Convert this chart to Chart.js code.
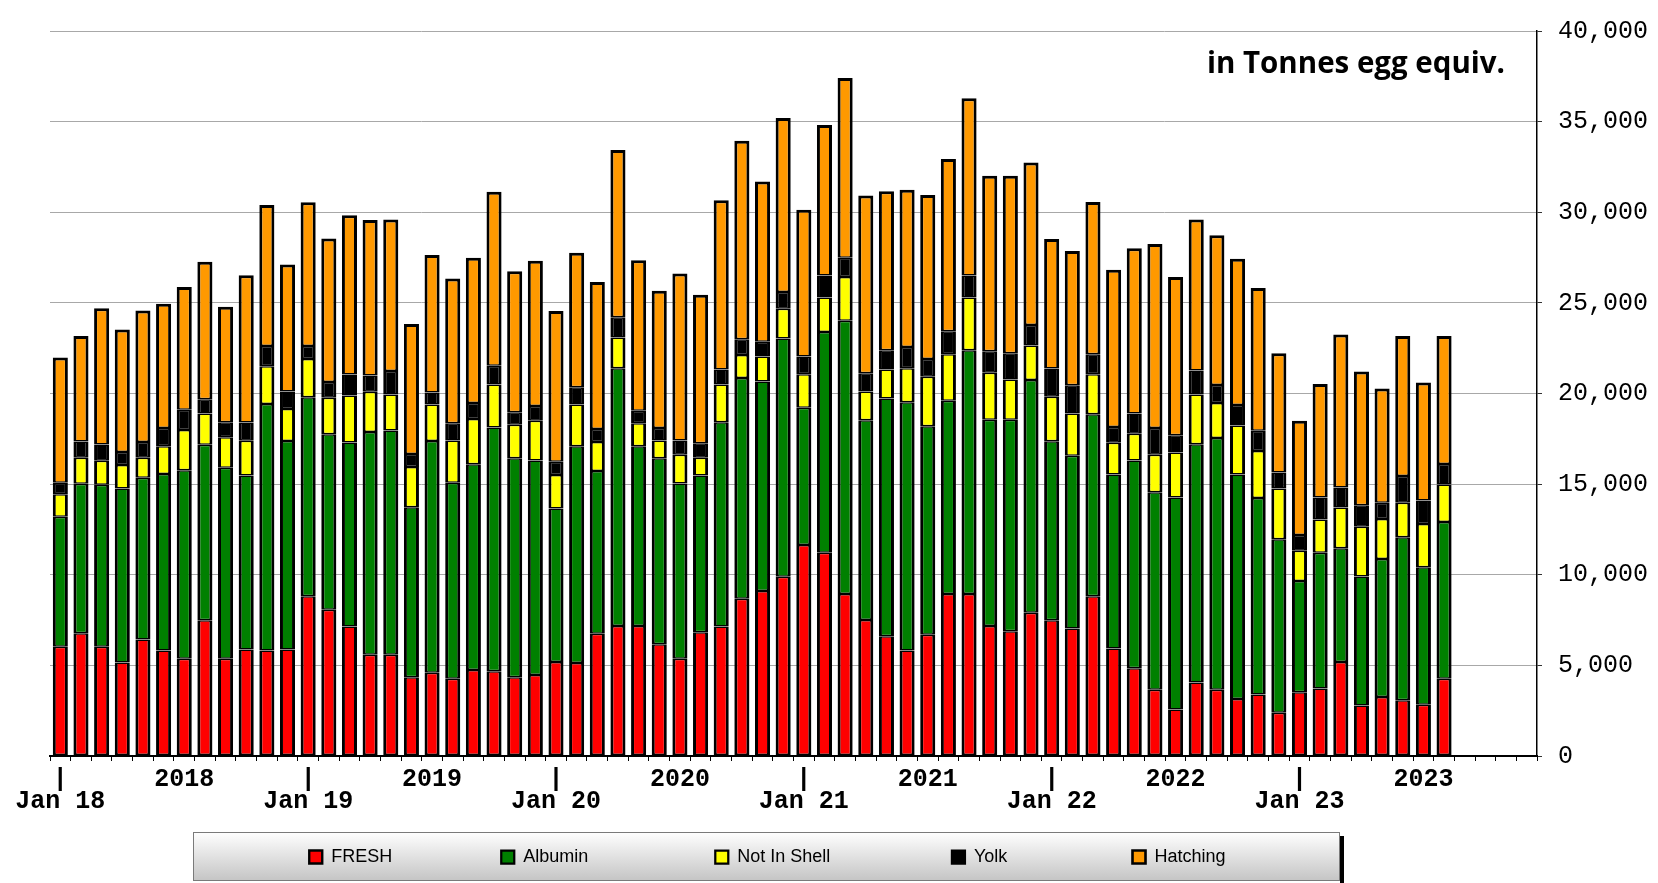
<!DOCTYPE html>
<html>
<head>
<meta charset="utf-8">
<title>Egg product imports</title>
<script src="https://cdn.jsdelivr.net/npm/chart.js@4.4.1/dist/chart.umd.min.js"></script>
<style>
    html, body { margin: 0; padding: 0; background: #ffffff; }
    .chart-wrap { position: relative; width: 1658px; height: 883px; }
</style>
</head>
<body>
<div class="chart-wrap">
    <canvas id="eggChart"></canvas>
</div>
<script>
// Monthly categories Jan 18 .. Dec 23 (axis runs to end of 2023)
const monthNames = ['Jan', 'Feb', 'Mar', 'Apr', 'May', 'Jun', 'Jul', 'Aug', 'Sep', 'Oct', 'Nov', 'Dec'];
const years = ['18', '19', '20', '21', '22', '23'];
const categories = [];
years.forEach(y => monthNames.forEach(m => categories.push(m + ' ' + y)));

// Tick labels
const janLabels = ['Jan 18', 'Jan 19', 'Jan 20', 'Jan 21', 'Jan 22', 'Jan 23'];
const yearLabels = ['2018', '2019', '2020', '2021', '2022', '2023'];

// Series values (tonnes egg equiv.), Jan 2018 - Aug 2023
const fresh = [6030, 6770, 6030, 5160, 6430, 5820, 5370, 7490, 5370, 5870, 5820, 5870,
    8810, 8070, 7140, 5580, 5580, 4340, 4600, 4260, 4740, 4680, 4340, 4470,
    5190, 5130, 6750, 7170, 7170, 6160, 5370, 6830, 7140, 8680, 9100, 9890,
    11640, 11220, 8940, 7510, 6610, 5820, 6690, 8940, 8940, 7170, 6880, 7910,
    7490, 7040, 8810, 5930, 4840, 3650, 2570, 4050, 3650, 3150, 3390, 2380,
    3520, 3730, 5190, 2780, 3250, 3070, 2830, 4260];

const albumin = [7170, 8255, 8940, 9600, 8915, 9735, 10400, 9680, 10530, 9600, 13600, 11510,
    10980, 9680, 10160, 12300, 12380, 9390, 12780, 10820, 11350, 13440, 12090, 11830,
    8460, 11960, 8970, 14230, 9920, 10270, 9660, 8650, 11270, 12170, 11560, 13150,
    7570, 12170, 15080, 11010, 13120, 13700, 11510, 10660, 13440, 11380, 11670, 12830,
    9870, 9520, 10050, 9600, 11460, 10900, 11690, 13150, 13890, 12380, 10850, 9580,
    6140, 7490, 6270, 7120, 7620, 9000, 7590, 8650];

const notInShell = [1240, 1430, 1320, 1300, 1110, 1535, 2220, 1720, 1690, 1930, 2090, 1770,
    2115, 2010, 2590, 2220, 1985, 2220, 2010, 2330, 2510, 2380, 1850, 2195,
    1850, 2300, 1610, 1695, 1270, 980, 1585, 980, 2090, 1270, 1380, 1640,
    1850, 1905, 2410, 1590, 1590, 1880, 2725, 2565, 2910, 2590, 2220, 1905,
    2460, 2330, 2200, 1750, 1480, 2065, 2490, 2750, 1930, 2700, 2590, 2800,
    1665, 1825, 2250, 2750, 2200, 1905, 2380, 2065];

const yolk = [635, 900, 900, 715, 870, 1005, 1110, 795, 820, 1005, 1110, 955,
    715, 875, 1165, 900, 1295, 715, 660, 950, 875, 1030, 690, 820,
    740, 950, 715, 1110, 690, 690, 795, 795, 820, 875, 820, 925,
    980, 1215, 1060, 1005, 1060, 1165, 980, 1270, 1215, 1190, 1455, 1135,
    1560, 1560, 1110, 870, 1110, 1480, 950, 1320, 1005, 1140, 1110, 875,
    875, 1215, 1110, 1190, 900, 1480, 1300, 1140];

const hatching = [6905, 5820, 7510, 6750, 7250, 6850, 6775, 7590, 6375, 8120, 7780, 7010,
    7935, 7910, 8780, 8570, 8360, 7170, 7590, 7990, 8015, 9600, 7780, 8015,
    8310, 7430, 8100, 9230, 8305, 7565, 9205, 8200, 9340, 10950, 8835, 9600,
    8095, 8310, 9920, 9815, 8780, 8680, 9045, 9500, 9790, 9680, 9790, 8970,
    7140, 7410, 8390, 8680, 9130, 10160, 8730, 8330, 8250, 8070, 7880, 6590,
    6300, 6270, 8440, 7380, 6300, 7720, 6510, 7060];

const seriesNames = ['FRESH', 'Albumin', 'Not In Shell', 'Yolk', 'Hatching'];
const titleText = 'in Tonnes egg equiv.';

// Spacing appended after each legend entry (em / en / thin spaces)
const EM = '\u2003', EN = '\u2002', THIN = '\u2009';
const legendGaps = [
    EM.repeat(5) + EN,
    EM.repeat(6) + EN,
    EM.repeat(6) + THIN,
    EM.repeat(6) + THIN + THIN,
    EM + EM + EN + THIN + THIN
];

class EggChart {
    constructor(canvasId) {
        this.canvas = document.getElementById(canvasId);
        this.chart = null;
        this.init();
    }

    init() {
        const ctx = this.canvas.getContext('2d');
        const side = { left: 3, right: 3, top: 1.5, bottom: 1.5 };

        this.chart = new Chart(ctx, {
            type: 'bar',
            data: {
                labels: categories,
                datasets: [
                    this.makeSet(seriesNames[0], fresh, '#ff0000', { left: 3, right: 3, top: 1.5, bottom: 2 }),
                    this.makeSet(seriesNames[1], albumin, '#008000', side),
                    this.makeSet(seriesNames[2], notInShell, '#ffff00', side),
                    this.makeSet(seriesNames[3], yolk, '#000000', side),
                    this.makeSet(seriesNames[4], hatching, '#ff9900', { left: 3, right: 3, top: 3, bottom: 1.5 })
                ]
            },
            options: {
                responsive: true,
                maintainAspectRatio: false,
                animation: false,
                layout: {
                    padding: { left: 50, right: 0, top: 21, bottom: 7 }
                },
                datasets: {
                    bar: {
                        barPercentage: 0.73,
                        categoryPercentage: 1.0
                    }
                },
                plugins: {
                    legend: {
                        position: 'bottom',
                        fullSize: false,
                        labels: {
                            color: '#000000',
                            font: { family: "'Liberation Sans', Arial, sans-serif", size: 18 },
                            boxWidth: 13,
                            boxHeight: 13,
                            padding: 10,
                            generateLabels: (chart) => {
                                const items = Chart.defaults.plugins.legend.labels.generateLabels(chart);
                                // widen the gap between entries like the original legend panel
                                items.forEach((item, i) => { item.text += legendGaps[i]; });
                                return items;
                            }
                        }
                    },
                    tooltip: { enabled: false }
                },
                scales: {
                    x: {
                        stacked: true,
                        grid: {
                            offset: true,
                            drawOnChartArea: false,
                            drawTicks: true,
                            tickLength: 5,
                            tickColor: '#000000',
                            tickWidth: 1
                        },
                        border: { color: '#000000', width: 2 },
                        ticks: {
                            autoSkip: false,
                            maxRotation: 0,
                            minRotation: 0,
                            padding: 8,
                            color: '#000000',
                            font: { family: "'Liberation Mono', monospace", size: 25, weight: 'bold', lineHeight: '22px' },
                            callback: (value, index) => {
                                if (index % 12 === 0) return ['|', janLabels[index / 12]];
                                if (index % 12 === 6) return yearLabels[(index - 6) / 12];
                                return '';
                            }
                        },
                        afterFit: (scale) => { scale.height = 82; }
                    },
                    y: {
                        stacked: true,
                        position: 'right',
                        min: 0,
                        max: 40000,
                        grid: {
                            color: '#a8a8a8',
                            lineWidth: 1,
                            tickLength: 5,
                            tickColor: '#333333'
                        },
                        border: { color: '#000000', width: 1.5 },
                        ticks: {
                            stepSize: 5000,
                            padding: 16,
                            color: '#000000',
                            font: { family: "'Liberation Mono', monospace", size: 25 },
                            callback: (value) => value.toLocaleString('en-US')
                        },
                        afterFit: (scale) => { scale.width = 121; }
                    }
                }
            },
            plugins: [this.panelPlugin(), this.titlePlugin()]
        });
    }

    makeSet(label, data, color, borderWidth) {
        return {
            label: label,
            data: data,
            backgroundColor: color,
            borderColor: '#000000',
            borderWidth: borderWidth,
            borderSkipped: false
        };
    }

    // White background + grey gradient panel behind the legend
    panelPlugin() {
        return {
            id: 'legendPanel',
            beforeDraw(chart) {
                const { ctx, width, height } = chart;
                const top = chart.legend.top - 6;
                const x0 = 193;
                const x1 = 1340;
                const y1 = height - 2;
                ctx.save();
                ctx.fillStyle = '#ffffff';
                ctx.fillRect(0, 0, width, height);
                ctx.fillStyle = '#000000';
                ctx.fillRect(x1, top + 4, 4, y1 - top);
                const grad = ctx.createLinearGradient(0, top, 0, y1);
                grad.addColorStop(0, '#ffffff');
                grad.addColorStop(1, '#c4c4c4');
                ctx.fillStyle = grad;
                ctx.fillRect(x0, top, x1 - x0, y1 - top);
                ctx.strokeStyle = '#7a7a7a';
                ctx.lineWidth = 1;
                ctx.strokeRect(x0 + 0.5, top + 0.5, x1 - x0 - 1, y1 - top - 1);
                ctx.restore();
            }
        };
    }

    // Unit note in the upper right of the plot
    titlePlugin() {
        return {
            id: 'unitNote',
            afterDraw(chart) {
                const { ctx } = chart;
                ctx.save();
                ctx.font = "bold 29.5px 'Open Sans', sans-serif";
                ctx.fillStyle = '#000000';
                ctx.textAlign = 'right';
                ctx.textBaseline = 'middle';
                ctx.fillText(titleText, 1505, 65);
                ctx.restore();
            }
        };
    }
}

document.addEventListener('DOMContentLoaded', function() {
    window.eggChart = new EggChart('eggChart');
});
</script>
</body>
</html>
